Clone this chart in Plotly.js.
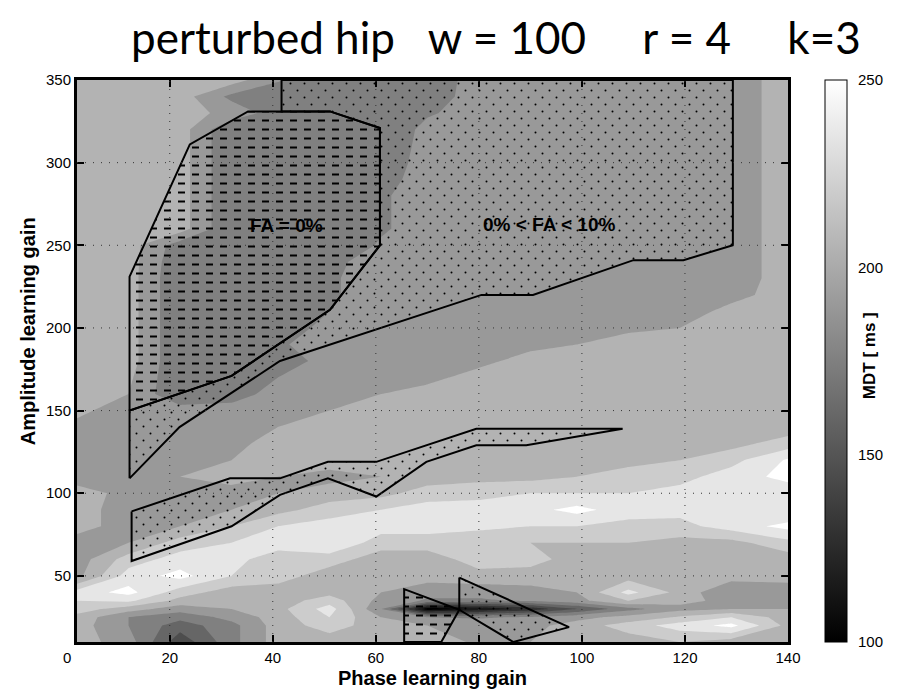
<!DOCTYPE html>
<html>
<head>
<meta charset="utf-8">
<script src="https://cdn.plot.ly/plotly-3.0.1.min.js"></script>
<style>html,body{margin:0;padding:0;background:#fff;}#chart{width:915px;height:693px;}</style>
</head>
<body>
<div id="chart"></div>
<script>
// ---- data ----
const phaseGain = [2,12,22,32,41,51,61,70,80,90,99,109,119,129,140];
const ampGain = [10,20,25,30,35,40,50,60,70,80,90,100,110,120,130,140,150,160,170,180,190,200,210,220,230,240,250,260,270,280,290,300,310,320,330,340,350];
const mdt = [
 [212,197,150,185,212,212,212,220,200,205,212,212,220,212,212],
 [212,190,167,185,212,227,212,205,200,200,212,227,242,255,215],
 [215,190,180,195,212,235,205,190,188,192,200,210,222,235,212],
 [227,212,197,205,215,242,190,105,118,135,160,185,200,205,205],
 [235,238,215,208,212,228,200,188,188,192,200,220,210,200,200],
 [242,255,227,212,212,215,205,195,195,200,205,240,215,190,195],
 [200,242,255,235,227,212,212,212,215,212,212,212,212,212,212],
 [197,227,242,240,227,227,212,212,227,227,212,212,212,212,212],
 [197,205,227,235,242,250,227,227,220,220,220,220,215,215,230],
 [212,197,205,220,235,242,242,242,240,235,235,230,230,242,255],
 [212,197,200,205,215,227,235,242,242,245,255,242,240,240,235],
 [212,200,200,200,205,212,215,227,230,235,235,235,240,242,240],
 [197,197,205,210,205,200,205,212,215,215,220,227,230,242,255],
 [197,197,200,205,212,212,212,212,212,212,212,215,220,230,252],
 [197,197,197,200,212,212,212,212,212,212,212,212,212,215,227],
 [197,197,197,197,205,212,212,212,212,212,212,212,212,212,212],
 [212,190,197,197,197,205,212,212,212,212,212,212,212,212,212],
 [212,205,176,182,197,197,205,212,212,212,212,212,212,212,212],
 [212,208,176,176,190,197,197,200,212,212,212,212,212,212,212],
 [212,212,176,176,180,197,197,197,200,212,212,212,212,212,212],
 [212,212,176,176,188,197,197,197,197,200,205,212,212,212,212],
 [212,212,176,176,178,197,197,197,197,197,197,202,205,212,212],
 [212,212,176,176,176,190,197,197,197,197,197,197,197,210,212],
 [212,212,176,176,176,188,197,197,197,197,197,197,197,200,212],
 [212,212,176,176,176,188,197,197,197,197,197,197,197,197,212],
 [212,212,178,176,176,186,197,197,197,197,197,197,197,197,212],
 [212,212,182,176,176,176,192,197,197,197,197,197,197,197,212],
 [212,212,212,176,176,176,188,197,197,197,197,197,197,197,212],
 [212,212,212,176,176,176,188,197,197,197,197,197,197,197,212],
 [212,212,212,176,176,176,188,197,197,197,197,197,197,197,212],
 [212,212,212,176,176,176,184,197,197,197,197,197,197,197,212],
 [212,212,212,176,176,176,180,197,197,197,197,197,197,197,212],
 [212,212,212,176,176,176,176,197,197,197,197,197,197,197,212],
 [212,212,212,176,176,176,176,195,197,197,197,197,197,197,212],
 [212,212,212,200,182,176,176,188,197,197,197,197,197,197,212],
 [212,212,212,186,176,176,176,182,197,197,197,197,197,197,212],
 [212,212,212,212,192,176,176,180,197,197,197,197,197,197,212]
];

// FA regions (outlines)
const fa0X = [12.2,32,51.1,60.8,60.8,51.1,35.2,23.9,12.2,12.2];
const fa0Y = [150,171,211,250,321,331,331,311,231,150];
const faLowX = [12.2,21.9,41.4,80.5,90.5,110,119.7,129.3,129.3,41.7,41.7,51.1,60.8,60.8,51.1,32,12.2,12.2];
const faLowY = [109,140,180,220,220,241,241,250,350,350,331,331,321,250,211,171,150,109];
const faLow2X = [12.6,31.7,41.4,50.7,60.1,79.5,107.9,89.2,79.5,69.8,60.1,50.7,41.4,32,12.6,12.6];
const faLow2Y = [89,109,109,119,119,139,139,129,129,119,98,109,99,80,59,89];
const fa0bX = [65.5,65.5,76.2,72.7,65.5];
const fa0bY = [10,42,29.5,10,10];
const faLow3X = [76.2,97.5,86.7,76.2,76.2];
const faLow3Y = [49,19,10,29.5,49];

const xTickVals = [20,40,60,80,100,120,140];
const yTickVals = [50,100,150,200,250,300,350];
const xGridVals = [20,40,60,80,100,120];
const yGridVals = [50,100,150,200,250,300];
const cbRange = [100,250];
const cbTicks = [100,150,200,250];
const levelStep = 15;

const labels = [
  {text:'FA = 0%', x:42.6, y:262},
  {text:'0% < FA < 10%', x:93.6, y:262.5}
];

// ---- traces ----
const FONT = 'Liberation Sans, Arial, Helvetica, sans-serif';
const traces = [];
traces.push({
  type:'contour', x:phaseGain, y:ampGain, z:mdt,
  autocontour:false,
  contours:{start:cbRange[0], end:cbRange[1], size:levelStep, coloring:'fill', showlines:false},
  colorscale:[[0,'#000000'],[1/11,'#000000'],[1,'#ffffff']],
  showscale:false, line:{width:0, smoothing:0}, hoverinfo:'skip'
});
// dummy heatmap only for the continuous colour bar
traces.push({
  type:'heatmap', x:[phaseGain[0],phaseGain[1]], y:[ampGain[0]], z:[[cbRange[0],cbRange[1]]],
  zmin:cbRange[0], zmax:cbRange[1], opacity:0,
  colorscale:[[0,'#000000'],[1,'#ffffff']], showscale:true, hoverinfo:'skip',
  colorbar:{x:1.052, xanchor:'left', y:0.5, yanchor:'middle', len:1, lenmode:'fraction',
    thickness:22, thicknessmode:'pixels', xpad:0, ypad:0, outlinewidth:1, outlinecolor:'#000',
    tickvals:cbTicks, ticks:'outside', ticklen:8, tickcolor:'rgba(0,0,0,0)',
    tickfont:{family:FONT, size:15, color:'#000'}}
});
function region(x,y,pattern){
  return {type:'scatter', mode:'lines', x:x, y:y, fill:'toself',
    fillcolor:'rgba(0,0,0,0)', fillpattern:pattern,
    line:{color:'#000', width:2}, hoverinfo:'skip', showlegend:false};
}
const dots = {shape:'.', fgcolor:'#000', bgcolor:'rgba(0,0,0,0)', size:10, solidity:0.05};
const dashes = {shape:'-', fgcolor:'#000', bgcolor:'rgba(0,0,0,0)', size:9, solidity:0.2};
traces.push(region(faLowX, faLowY, dots));
traces.push(region(faLow2X, faLow2Y, dots));
traces.push(region(faLow3X, faLow3Y, dots));
traces.push(region(fa0X, fa0Y, dashes));
traces.push(region(fa0bX, fa0bY, dashes));

const shapes = [];
xGridVals.forEach(v => shapes.push({type:'line', xref:'x', yref:'paper', x0:v, x1:v, y0:0, y1:1, layer:'above',
  line:{color:'#333', width:1, dash:'1px,7px'}}));
yGridVals.forEach(v => shapes.push({type:'line', xref:'paper', yref:'y', x0:0, x1:1, y0:v, y1:v, layer:'above',
  line:{color:'#333', width:1, dash:'1px,7px'}}));

const annotations = labels.map(l => ({x:l.x, y:l.y, xref:'x', yref:'y', text:'<b>'+l.text+'</b>', showarrow:false,
  font:{family:FONT, size:19, color:'#000'}, xanchor:'center', yanchor:'middle'}));
annotations.push({x:-0.0135, y:-0.027, xref:'paper', yref:'paper', text:'0', showarrow:false,
  font:{family:FONT, size:15, color:'#000'}, xanchor:'center', yanchor:'middle'});
annotations.push({x:1.115, y:0.51, xref:'paper', yref:'paper', text:'<b>MDT [ ms ]</b>', showarrow:false, textangle:-90,
  font:{family:FONT, size:17, color:'#000'}, xanchor:'center', yanchor:'middle'});
annotations.push({x:-0.069, y:0.553, xref:'paper', yref:'paper', text:'<b>Amplitude learning gain</b>', showarrow:false, textangle:-90,
  font:{family:FONT, size:20, color:'#000'}, xanchor:'center', yanchor:'middle'});

const axisCommon = {ticks:'inside', ticklen:7, tickwidth:2, tickcolor:'#000', showline:true, linewidth:3,
  linecolor:'#000', mirror:'ticks', showgrid:false, zeroline:false, layer:'above traces',
  tickfont:{family:FONT, size:15, color:'#000'}};

const layout = {
  width:915, height:693,
  margin:{l:77, r:127, t:80, b:51},
  paper_bgcolor:'#fff', plot_bgcolor:'#fff', showlegend:false,
  title:{text:'perturbed hip\u00a0\u00a0\u00a0w = 100\u00a0\u00a0\u00a0\u00a0\u00a0r = 4\u00a0\u00a0\u00a0\u00a0\u00a0k=3',
    font:{family:'Lato, Carlito, sans-serif', size:44, color:'#000'},
    xref:'container', x:0.542, xanchor:'center', yref:'container', y:0.945, yanchor:'middle'},
  xaxis:Object.assign({}, axisCommon, {range:[2,140], tickvals:xTickVals,
    title:{text:'<b>Phase learning gain</b>', font:{family:FONT, size:20, color:'#000'}, standoff:6}}),
  yaxis:Object.assign({}, axisCommon, {range:[10,350], tickvals:yTickVals}),
  shapes:shapes, annotations:annotations
};

// restyle the SVG hatch tiles: staggered dots and short dashes like the original
function hatchTiles(gd){
  gd.querySelectorAll('pattern').forEach(p => {
    const c = p.querySelector('circle');
    const path = p.querySelector('path');
    if (c) {
      p.setAttribute('width', 14); p.setAttribute('height', 14);
      c.setAttribute('cx', 3.5); c.setAttribute('cy', 3.5); c.setAttribute('r', 1.0);
      const c2 = c.cloneNode(); c2.setAttribute('cx', 10.5); c2.setAttribute('cy', 10.5);
      p.appendChild(c2);
    } else if (path) {
      p.setAttribute('width', 14); p.setAttribute('height', 9);
      path.setAttribute('d', 'M3,4.5H10');
      path.style.strokeWidth = '2px';
      path.setAttribute('stroke-width', '2');
      path.style.opacity = 1;
    }
  });
}

Plotly.newPlot('chart', traces, layout, {displayModeBar:false, staticPlot:true}).then(hatchTiles);
</script>
</body>
</html>
